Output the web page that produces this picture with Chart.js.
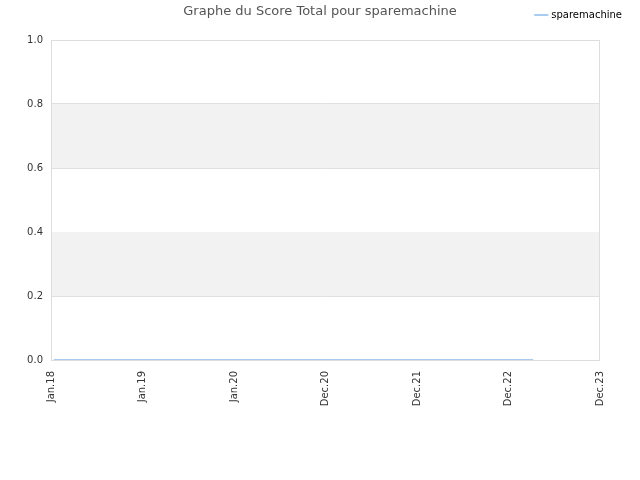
<!DOCTYPE html>
<html>
<head>
<meta charset="utf-8">
<script src="https://cdn.jsdelivr.net/npm/chart.js@4"></script>
<style>
  body { margin: 0; background: #fff; }
  #wrap { width: 640px; height: 480px; }
</style>
</head>
<body>
<div id="wrap"><canvas id="scoreChart" width="640" height="480"></canvas></div>
<script>
const tickLabels = ["Jan.18", "Jan.19", "Jan.20", "Dec.20", "Dec.21", "Dec.22", "Dec.23"];
// positions on the x axis, in tick units (0 = Jan.18)
const pointX = [0.03, 1, 2, 3, 4, 5, 5.27];
const scoreValues = [0, 0, 0, 0, 0, 0, 0];
const yTicks = [0, 0.2, 0.4, 0.6, 0.8, 1.0];

const bandsAndBorder = {
    id: "bandsAndBorder",
    beforeDatasetsDraw(chart) {
        const { ctx, chartArea, scales } = chart;
        ctx.save();
        ctx.fillStyle = "#f2f2f2";
        [[0.2, 0.4], [0.6, 0.8]].forEach(([a, b]) => {
            const top = scales.y.getPixelForValue(b);
            const bot = scales.y.getPixelForValue(a);
            ctx.fillRect(chartArea.left, top, chartArea.right - chartArea.left, bot - top);
        });
        ctx.strokeStyle = "#dddddd";
        ctx.lineWidth = 1;
        ctx.strokeRect(chartArea.left + 0.5, chartArea.top + 0.5, chartArea.right - chartArea.left - 1, chartArea.bottom - chartArea.top);
        ctx.restore();
    },
    afterDraw(chart) {
        const { ctx } = chart;
        ctx.save();
        ctx.font = "13px 'DejaVu Sans'";
        ctx.fillStyle = "#555555";
        ctx.textAlign = "center";
        ctx.textBaseline = "middle";
        ctx.fillText("Graphe du Score Total pour sparemachine", 320, 12);
        ctx.restore();
    }
};

// empty axes used only as spacers
const spacer = (size) => ({
    display: true,
    grid: { display: false },
    border: { display: false },
    ticks: { display: false },
    afterFit: (s) => { if (s.isHorizontal()) s.height = size; else s.width = size; },
});

new Chart(document.querySelector("#scoreChart"), {
    type: "line",
    data: {
        datasets: [
            {
                label: "sparemachine",
                data: pointX.map((x, i) => ({ x: x, y: scoreValues[i] })),
                borderColor: "#a8cbef",
                backgroundColor: "#a8cbef",
                borderWidth: 2,
                pointRadius: 0,
                tension: 0,
            },
        ],
    },
    options: {
        responsive: false,
        animation: false,
        layout: { padding: { top: 0, right: 8, bottom: 0, left: 0 } },
        plugins: {
            title: { display: false },
            tooltip: { enabled: false },
            legend: {
                position: "top",
                align: "end",
                labels: {
                    usePointStyle: true,
                    pointStyle: "line",
                    boxWidth: 10,
                    color: "#000",
                    font: { family: "DejaVu Sans", size: 10 },
                    padding: 10,
                },
            },
        },
        scales: {
            x: {
                type: "linear",
                min: 0,
                max: 6,
                ticks: {
                    stepSize: 1,
                    autoSkip: false,
                    minRotation: 90,
                    maxRotation: 90,
                    color: "#333",
                    font: { family: "DejaVu Sans", size: 10 },
                    callback: (v) => tickLabels[v],
                },
                grid: { display: false },
                border: { display: false },
                afterFit: (s) => { s.height = 120; },
            },
            xTop: Object.assign({ type: "linear", position: "top" }, spacer(10)),
            y: {
                min: 0,
                max: 1,
                afterBuildTicks: (s) => { s.ticks = yTicks.map((v) => ({ value: v })); },
                ticks: {
                    color: "#333",
                    font: { family: "DejaVu Sans", size: 10 },
                    callback: (v) => v.toFixed(1),
                    padding: 8,
                },
                grid: { color: "#e0e0e0", drawTicks: false },
                border: { display: false },
                afterFit: (s) => { s.width = 51; },
            },
            yRight: Object.assign({ type: "linear", position: "right" }, spacer(32)),
        },
    },
    plugins: [bandsAndBorder],
});
</script>
</body>
</html>
